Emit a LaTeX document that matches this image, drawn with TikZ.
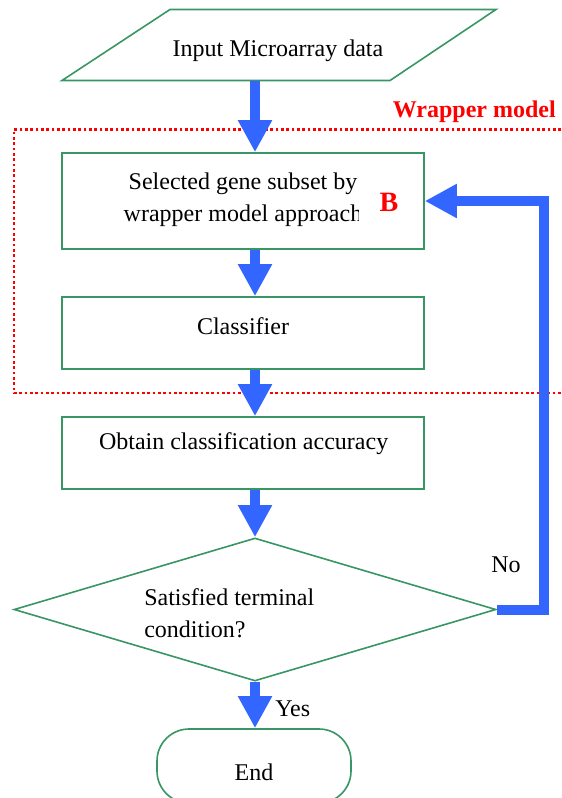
\documentclass[tikz,border=0pt]{standalone}
\usepackage{fontspec}
\setmainfont{Liberation Serif}
\usetikzlibrary{arrows.meta,shapes.geometric}
\definecolor{boxgreen}{RGB}{55,150,100}
\definecolor{flowblue}{RGB}{51,102,255}
\definecolor{wrapred}{RGB}{255,0,0}

\begin{document}
\begin{tikzpicture}[x=0.75pt,y=-0.75pt,
  lbl/.style={inner sep=0pt,font=\fontsize{18}{22}\selectfont},
  stepbox/.style={draw=boxgreen,line width=1.2pt,rectangle,inner sep=0pt,
    minimum width=271.5pt},
  flowarrow/.style={draw=flowblue,line width=7.5pt,
    -{Triangle[length=24pt,width=24pt]}},
  redtext/.style={text=wrapred,inner sep=0pt,font=\bfseries\fontsize{18}{22}\selectfont}]
\useasboundingbox (0,0) rectangle (561,798);

% input parallelogram
\node[inner sep=0pt,minimum width=244pt,minimum height=53.25pt] (inp) at (279,45) {};
\draw[boxgreen,line width=1.2pt,line join=miter]
  (170,9.5) -- (496,9.5) -- (390,80.5) -- (62,80.5) -- cycle;
\node[lbl,anchor=base] at (278,56.7) {Input Microarray data};

% process boxes
\node[stepbox,minimum height=72pt] (sel) at (243,201) {};
\node[stepbox,minimum height=54pt] (cls) at (243,333) {};
\node[stepbox,minimum height=54pt] (acc) at (243,453) {};

% decision and terminal
\node[diamond,draw=boxgreen,line width=1.2pt,inner sep=0pt,
  minimum width=361.5pt,minimum height=107.25pt] (cond) at (255,609.5) {};
\node[draw=boxgreen,line width=1.2pt,rounded corners=24pt,inner sep=0pt,
  minimum width=145.5pt,minimum height=55.5pt] (fin) at (254,766) {};

% box texts
\begin{scope}
  \clip (62,150) rectangle (358,252);
  \node[lbl,anchor=base] at (243,190) {Selected gene subset by};
  \node[lbl,anchor=base] at (243,222) {wrapper model approach};
\end{scope}
\node[redtext,anchor=base,font=\bfseries\fontsize{21}{24}\selectfont] at (389,212) {B};
\node[lbl,anchor=base] at (243,334) {Classifier};
\node[lbl,anchor=base] at (243.6,449) {Obtain classification accuracy};
\node[lbl,anchor=base west] at (144,605) {Satisfied terminal};
\node[lbl,anchor=base west] at (144,637) {condition?};
\node[lbl,anchor=base] at (254,780) {End};
\node[lbl,anchor=base west] at (491,572.7) {No};
\node[lbl,anchor=base west] at (275,716.7) {Yes};

% wrapper region
\draw[wrapred,line width=2pt,dash pattern=on 2pt off 2pt]
  (561,129.3) -- (14,129.3) -- (14,393) -- (561,393);
\node[redtext,anchor=base east] at (556,117.3) {Wrapper model};

% flow arrows
\draw[flowarrow] (inp.south -| cond.north) -- (sel.north -| cond.north);
\draw[flowarrow] (sel.south -| cond.north) -- (cls.north -| cond.north);
\draw[flowarrow] (cls.south -| cond.north) -- (acc.north -| cond.north);
\draw[flowarrow] (acc.south -| cond.north) -- (cond.north);
\draw[flowarrow] (cond.south) -- (fin.north -| cond.south);
\draw[flowarrow,line join=miter] (cond.east) -- ++(47.5,0) |- (sel.east);
\end{tikzpicture}
\end{document}
